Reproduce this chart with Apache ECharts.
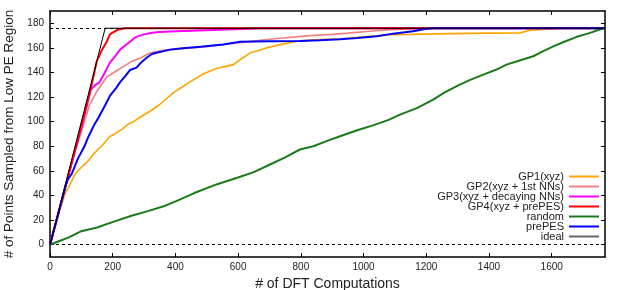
<!DOCTYPE html>
<html><head><meta charset="utf-8">
<script src="https://cdn.jsdelivr.net/npm/echarts@6/dist/echarts.min.js"></script>
<style>html,body{margin:0;padding:0;background:#fff}#c{width:623px;height:290px}</style>
</head><body><div id="c"></div>
<script>
var xTicks = [0,200,400,600,800,1000,1200,1400,1600];
var yTicks = [0,20,40,60,80,100,120,140,160,180];
var refLines = [0,176];
var gp1 = [[0,0],[20,18],[47,41],[60,47],[79,57],[100,63],[121,68],[140,74],[164,80],[191,88],[206,90],[230,94],[249,98],[266,100],[290,104],[319,108.5],[350,114],[393,123.5],[420,128],[457,134],[490,139],[531,143.2],[560,145],[585,146.4],[610,151],[638,156],[659,157.5],[690,160],[712,161.3],[750,163.5],[787,165.4],[830,166.3],[880,167],[935,167.5],[1000,169],[1050,170],[1094,170.8],[1150,171],[1275,171.6],[1400,172],[1499,172.2],[1531,174.3],[1594,175.5],[1620,176],[1770,176]];
var gp2 = [[0,0],[50,48],[80,76],[100,92],[125,113],[150,125],[180,136],[210,141],[235,145],[260,149],[290,152],[320,156],[360,158],[400,159],[450,160],[500,161],[550,162.5],[600,164],[650,165.5],[700,167],[760,168.5],[830,170],[900,171],[950,172],[1020,173.5],[1084,174.8],[1150,175.6],[1200,176],[1770,176]];
var gp3 = [[0,0],[60,58],[100,95],[130,126],[145,130],[158,132],[175,140],[191,148],[210,154],[225,159],[240,162],[255,165],[275,169],[300,171],[325,172.3],[350,173],[400,173.6],[450,174],[520,174.5],[606,175.4],[670,176],[1770,176]];
var gp4 = [[0,0],[50,48],[100,97],[130,127],[149,149],[165,158],[181,165],[191,171],[200,172.5],[218,175],[240,176],[1770,176]];
var randomS = [[0,0],[30,3],[60,6],[100,11],[150,14],[206,19],[260,23.5],[312,27.3],[360,31],[408,36],[460,42],[531,49],[597,54.4],[650,59],[700,65],[750,71],[797,77.4],[840,80],[880,84],[925,88.2],[980,93],[1030,97],[1080,101.5],[1116,105.8],[1170,111],[1222,118],[1260,124],[1307,130.2],[1340,134],[1382,138.3],[1420,142],[1456,146.4],[1500,150],[1541,153.2],[1570,157],[1605,161.3],[1640,165],[1680,169],[1720,172],[1765,176]];
var prepes = [[0,0],[50,48],[57,53],[70,58],[89,70],[110,80],[121,87],[142,98],[154,103],[175,113],[191,121],[210,127],[223,132],[240,137],[255,142],[276,144],[290,148],[308,152],[325,155],[340,156],[383,158.6],[415,159.5],[480,161],[552,162.7],[606,165],[700,165.4],[797,165.6],[860,166.2],[925,167],[980,168],[1042,169.5],[1094,171.6],[1158,173.5],[1196,175.4],[1222,176],[1770,176]];
var ideal = [[0,0],[176,176],[1770,176]];
var names = ['GP1(xyz)','GP2(xyz + 1st NNs)','GP3(xyz + decaying NNs)','GP4(xyz + prePES)','random','prePES','ideal'];
var colors = ['#ffa500','#f08080','#ff00ff','#ff0000','#1a7a1a','#0000ff','#000000'];
var widths = [1.6,1.6,2,2,2,2,1];
var datas = [gp1,gp2,gp3,gp4,randomS,prepes,ideal];

var font = 'Liberation Sans, Arial, Helvetica, sans-serif';
var series = datas.map(function(d,i){
  var s = {name:names[i], type:'line', data:d, symbol:'none', showSymbol:false,
    lineStyle:{color:colors[i], width:widths[i]}, itemStyle:{color:colors[i]},
    animation:false, z:2+i};
  if (i===6) {
    s.markLine = {silent:true, symbol:'none', label:{show:false},
      lineStyle:{type:[3,3], color:'#000', width:1},
      data: refLines.map(function(v){return {yAxis:v};})};
  }
  return s;
});
var axisCommon = {
  axisLine:{show:true, onZero:false, lineStyle:{color:'#000', width:1.5}},
  splitLine:{show:false}
};
function plain(v){ return String(v); }
var chart = echarts.init(document.getElementById('c'), null, {renderer:'canvas'});
chart.setOption({
  animation:false,
  backgroundColor:'#fff',
  grid:{left:50, right:18, top:11, bottom:33, containLabel:false, outerBoundsMode:'none'},
  legend:{
    orient:'vertical', right:24, top:171, align:'right', padding:0,
    itemGap:-1, itemWidth:30, itemHeight:10, icon:'path://M0,4 L30,4 L30,6 L0,6 Z',
    textStyle:{fontFamily:font, fontSize:11, color:'#222'},
    data: names.map(function(n,i){return {name:n, itemStyle:{color: i===6?'#666':colors[i]}};})
  },
  xAxis:[
    Object.assign({type:'value', min:0, max:1770, position:'bottom',
      name:'# of DFT Computations', nameLocation:'middle', nameGap:18,
      nameTextStyle:{fontFamily:font, fontSize:14, color:'#222'},
      axisTick:{show:true, inside:true, length:4, customValues:xTicks, lineStyle:{color:'#000'}},
      axisLabel:{show:true, customValues:xTicks, formatter:plain, fontFamily:font, fontSize:10, color:'#222', margin:5}}, axisCommon),
    Object.assign({type:'value', min:0, max:1770, position:'top',
      axisTick:{show:true, inside:true, length:4, customValues:xTicks, lineStyle:{color:'#000'}},
      axisLabel:{show:false}}, axisCommon)
  ],
  yAxis:[
    Object.assign({type:'value', min:-10, max:190, position:'left',
      name:'# of Points Sampled from Low PE Region', nameLocation:'middle', nameGap:29,
      nameTextStyle:{fontFamily:font, fontSize:13.5, color:'#222'},
      axisTick:{show:true, inside:true, length:4, customValues:yTicks, lineStyle:{color:'#000'}},
      axisLabel:{show:true, customValues:yTicks, formatter:plain, fontFamily:font, fontSize:10, color:'#222', margin:6}}, axisCommon),
    Object.assign({type:'value', min:-10, max:190, position:'right',
      axisTick:{show:true, inside:true, length:4, customValues:yTicks, lineStyle:{color:'#000'}},
      axisLabel:{show:false}}, axisCommon)
  ],
  series: series
});
</script></body></html>
